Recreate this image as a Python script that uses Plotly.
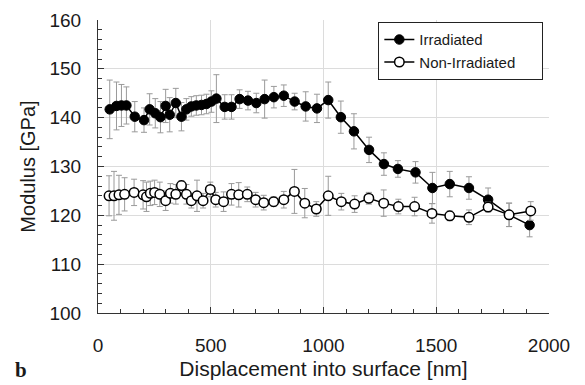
import plotly.graph_objects as go

x_irr = [52, 82, 104, 126, 163, 204, 229, 254, 277, 300, 318, 345, 370, 392, 414, 436, 459, 481, 503, 525,
         562, 592, 628, 665, 702, 739, 780, 824, 872, 921, 971, 1021, 1077, 1135, 1202, 1268, 1330, 1408,
         1483, 1560, 1645, 1730, 1823, 1914]
y_irr = [141.7, 142.4, 142.5, 142.5, 140.2, 139.5, 141.7, 140.9, 140.1, 142.4, 140.6, 143.0, 140.2, 141.7,
         142.3, 142.5, 142.6, 142.8, 143.3, 143.9, 142.2, 142.2, 143.8, 143.5, 143.0, 143.8, 144.2, 144.5,
         143.3, 142.3, 141.9, 143.6, 140.1, 137.2, 133.4, 130.5, 129.5, 128.8, 125.6, 126.4, 125.6, 123.2,
         120.1, 118.0]
err_irr = [6.0, 4.9, 4.3, 3.8, 3.1, 2.5, 3.2, 3.0, 3.2, 3.4, 3.5, 3.0, 2.9, 2.2, 2.0, 2.0, 2.0, 2.0, 2.2, 4.9,
           2.5, 2.5, 1.9, 1.9, 2.0, 3.9, 2.2, 2.2, 1.7, 3.0, 2.9, 3.7, 3.3, 3.6, 2.6, 2.3, 1.7, 2.2, 3.2, 2.6,
           2.3, 2.4, 2.4, 2.4]

x_non = [49, 71, 93, 118, 160, 200, 215, 232, 251, 274, 300, 321, 345, 370, 392, 414, 439, 466, 498, 522,
         557, 592, 624, 662, 699, 735, 779, 824, 871, 917, 968, 1021, 1079, 1138, 1201, 1267, 1332, 1404,
         1481, 1560, 1645, 1730, 1823, 1919]
y_non = [124.0, 124.0, 124.2, 124.3, 124.7, 124.2, 123.8, 124.5, 124.7, 124.3, 123.0, 124.5, 124.3, 126.1,
         124.3, 123.0, 124.0, 123.0, 125.3, 123.2, 122.8, 124.3, 124.2, 124.3, 123.2, 122.6, 122.8, 123.2,
         124.9, 122.5, 121.3, 124.0, 122.8, 122.3, 123.5, 122.5, 121.8, 121.8, 120.4, 119.9, 119.6, 121.7,
         120.1, 120.9]
err_non = [4.1, 5.0, 4.0, 3.4, 2.7, 2.9, 3.0, 2.5, 2.5, 2.5, 2.0, 2.0, 2.0, 1.0, 2.0, 1.5, 3.2, 1.5, 1.5, 1.5,
           2.0, 2.2, 2.5, 1.5, 1.5, 1.5, 1.0, 1.7, 4.5, 3.0, 1.5, 4.0, 1.7, 1.7, 1.2, 2.7, 1.5, 1.9, 2.0, 1.0,
           1.5, 1.0, 2.4, 1.9]

x_ticks = [0, 500, 1000, 1500, 2000]
y_ticks = [100, 110, 120, 130, 140, 150, 160]

FONT = "Liberation Sans, Arial, sans-serif"
ERR = dict(type="data", visible=True, color="#9a9a9a", thickness=1, width=3)
PAD = "\u00a0" * 5

fig = go.Figure()
fig.add_trace(go.Scatter(
    x=x_irr, y=y_irr, name="Irradiated", mode="lines+markers",
    error_y=dict(array=err_irr, **ERR),
    line=dict(color="black", width=1.5),
    marker=dict(symbol="circle", size=9.5, color="black", line=dict(color="black", width=1)),
))
fig.add_trace(go.Scatter(
    x=x_non, y=y_non, name="Non-Irradiated" + PAD, mode="lines+markers",
    error_y=dict(array=err_non, **ERR),
    line=dict(color="black", width=1.5),
    marker=dict(symbol="circle", size=9.5, color="white", line=dict(color="black", width=1.5)),
))

fig.update_layout(
    width=585, height=385,
    margin=dict(l=98, r=36, t=20, b=72),
    paper_bgcolor="white", plot_bgcolor="white",
    font=dict(family=FONT, color="#1a1a1a"),
    showlegend=True,
    legend=dict(
        x=0.987, y=0.993, xanchor="right", yanchor="top",
        bordercolor="#222", borderwidth=1.2, bgcolor="white",
        font=dict(size=15, family=FONT, color="#1a1a1a"),
        tracegroupgap=0, itemwidth=30,
    ),
    xaxis=dict(
        range=[0, 2000], tickvals=x_ticks, ticktext=[str(v) for v in x_ticks],
        showgrid=True, gridcolor="#dcdcdc", gridwidth=1,
        showline=True, linecolor="#333", linewidth=1.2,
        ticks="inside", ticklen=6, tickcolor="#333",
        minor=dict(dtick=100, ticks="inside", ticklen=4, tickcolor="#333", showgrid=False),
        tickfont=dict(size=19, family=FONT), ticklabelstandoff=15,
        title=dict(text="Displacement into surface [nm]", font=dict(size=21, family=FONT), standoff=6),
        zeroline=False, automargin=False,
    ),
    yaxis=dict(
        range=[100, 160], tickvals=y_ticks, ticktext=[str(v) for v in y_ticks],
        showgrid=True, gridcolor="#dcdcdc", gridwidth=1,
        showline=True, linecolor="#333", linewidth=1.2,
        ticks="inside", ticklen=6, tickcolor="#333",
        minor=dict(dtick=2, ticks="inside", ticklen=4, tickcolor="#333", showgrid=False),
        tickfont=dict(size=19, family=FONT), ticklabelstandoff=12,
        title=dict(text="Modulus [GPa]", font=dict(size=20, family=FONT), standoff=8),
        zeroline=False, automargin=False,
    ),
    annotations=[dict(
        text="<b>b</b>", xref="paper", yref="paper", x=-0.17, y=-0.195,
        xanchor="center", yanchor="middle", showarrow=False,
        font=dict(size=21, family="Liberation Serif, DejaVu Serif, serif", color="#1a1a1a"),
    )],
)

fig.write_html("out.html")
